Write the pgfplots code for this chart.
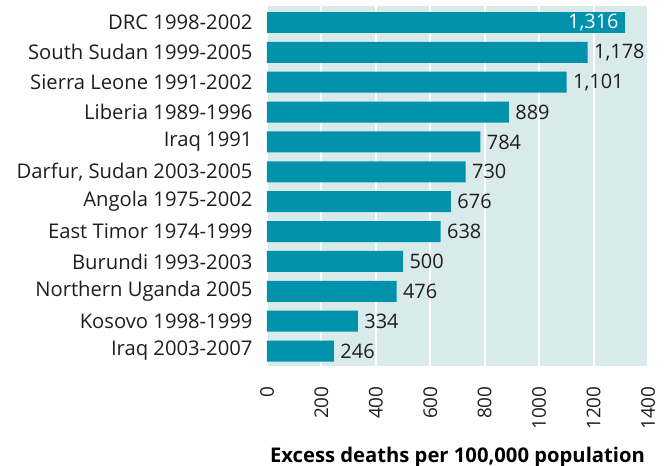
\documentclass[border=0pt]{standalone}
\usepackage{pgfplots}
\pgfplotsset{compat=1.18}
\usepackage{fontspec}
\setmainfont{Open Sans}
\definecolor{barteal}{RGB}{0,146,171}
\definecolor{bgteal}{RGB}{217,234,234}
\definecolor{txt}{RGB}{30,30,30}

\begin{document}
\begin{tikzpicture}
\begin{axis}[
    name=ax,
    scale only axis,
    width=381bp, height=360bp,
    xbar, bar width=21bp, bar shift=0pt,
    xmin=0, xmax=1400,
    ymin=-0.55, ymax=11.5,
    y dir=reverse,
    axis background/.style={fill=bgteal},
    axis line style={draw=none},
    xmajorgrids, grid style={white, line width=2bp},
    xtick={0,200,...,1400},
    ytick={0,...,11},
    yticklabels={DRC 1998-2002, South Sudan 1999-2005, Sierra Leone 1991-2002,
      Liberia 1989-1996, Iraq 1991, {Darfur, Sudan 2003-2005}, Angola 1975-2002,
      East Timor 1974-1999, Burundi 1993-2003, Northern Uganda 2005,
      Kosovo 1998-1999, Iraq 2003-2007},
    major tick length=0pt,
    /pgf/number format/assume math mode=true,
    xticklabel style={rotate=90, anchor=east, font=\fontsize{19}{22}\selectfont, text=txt, xshift=-17bp},
    yticklabel style={font=\fontsize{20.3}{24}\selectfont, text=txt, xshift=-11bp},
    scaled x ticks=false,
    xticklabel={\pgfmathprintnumber[1000 sep={}]{\tick}},
    xlabel={\bfseries Excess deaths per 100,000 population},
    xlabel style={font=\fontsize{20.3}{24}\selectfont\bfseries, text=black, yshift=-10bp},
    nodes near coords,
    nodes near coords style={font=\fontsize{20}{24}\selectfont, text=txt, xshift=3bp,
      /pgf/number format/1000 sep={,}, /pgf/number format/assume math mode=true},
  ]
  \addplot[fill=barteal, draw=none] coordinates {
    (1178,1) (1101,2) (889,3) (784,4) (730,5) (676,6)
    (638,7) (500,8) (476,9) (334,10) (246,11)
  };
  \addplot[fill=barteal, draw=none,
    nodes near coords style={anchor=east, text=white, xshift=-6bp}] coordinates {
    (1316,0)
  };
\end{axis}
\pgfresetboundingbox
\path[use as bounding box] (ax.south west) ++(-267bp,-100bp) rectangle ++(664bp,466bp);
\end{tikzpicture}
\end{document}
